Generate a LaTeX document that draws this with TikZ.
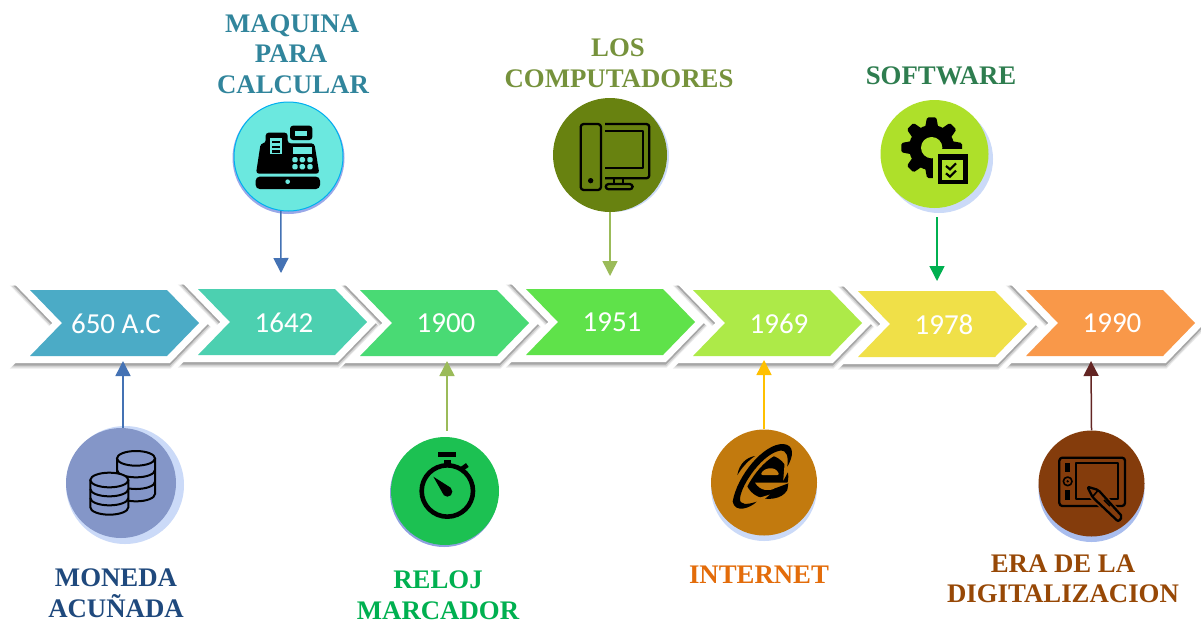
\documentclass[tikz,border=0pt]{standalone}
\usepackage{fontspec}
\setmainfont{Liberation Serif}
\newfontfamily\yearfont{Carlito}
\definecolor{cA}{HTML}{4BABC6}\definecolor{cB}{HTML}{4CD0B0}\definecolor{cC}{HTML}{49DA74}
\definecolor{cD}{HTML}{5FE24A}\definecolor{cE}{HTML}{ADEA48}\definecolor{cF}{HTML}{F0E048}\definecolor{cG}{HTML}{F99849}
\definecolor{halo}{HTML}{CBDAF8}
\definecolor{tMaq}{HTML}{31859C}\definecolor{tCom}{HTML}{76923C}\definecolor{tSof}{HTML}{2E7D4F}
\definecolor{tMon}{HTML}{1F497D}\definecolor{tRel}{HTML}{00B050}\definecolor{tInt}{HTML}{E36C0A}\definecolor{tEra}{HTML}{974806}
\definecolor{dMaq}{HTML}{6BE8DF}\definecolor{dCom}{HTML}{688210}\definecolor{dSof}{HTML}{AEE02A}
\definecolor{dMon}{HTML}{8496C8}\definecolor{dRel}{HTML}{1CC152}\definecolor{dInt}{HTML}{C27A0E}\definecolor{dEra}{HTML}{843C0C}
\definecolor{hMaq}{HTML}{9AA8E8}\definecolor{hRel}{HTML}{8FA0E0}\definecolor{hEra}{HTML}{A9BDEE}
\definecolor{ringMaq}{HTML}{00B0F0}
\definecolor{aBlue}{HTML}{4472B4}\definecolor{aOlive}{HTML}{9BBB59}\definecolor{aGold}{HTML}{FFC000}\definecolor{aDark}{HTML}{632523}
\newcommand{\chevp}[2]{(#1,#2) -- ({#1+137},#2) -- ({#1+169},{#2+33}) -- ({#1+137},{#2+66}) -- (#1,{#2+66}) -- ({#1+32},{#2+33}) -- cycle}
\tikzset{
  x=1pt,y=-1pt,
  title/.style={font=\bfseries\fontsize{26.8}{30}\selectfont,inner sep=0pt,anchor=base},
  year/.style={font=\yearfont\fontsize{29}{30}\selectfont,text=white,inner sep=0pt},
  disc/.style={circle,minimum size=#1,inner sep=0pt,draw=none},
  conn/.style={line width=1.5pt,-{Triangle[length=15pt,width=15pt]}},
  icon/.style={line width=2.3pt,black,line join=round},
}
\usetikzlibrary{arrows.meta}
\begin{document}
\begin{tikzpicture}
\useasboundingbox (0,0) rectangle (1201,622);
\fill[white] (0,0) rectangle (1201,622);
% shadows and white borders
\foreach \xa/\ya in {30/290,198/289,360/290,526/289,693/290,858/291,1026/290}{
  \begin{scope}[yshift=-4pt]\draw[draw=black!8,fill=black!8,line width=17pt,miter limit=10] \chevp{\xa}{\ya};\end{scope}
  \begin{scope}[yshift=-3.5pt]\draw[draw=black!18,fill=black!18,line width=15.5pt,miter limit=10] \chevp{\xa}{\ya};\end{scope}
  \begin{scope}[yshift=-2.5pt]\draw[draw=black!35,fill=black!35,line width=14pt,miter limit=10] \chevp{\xa}{\ya};\end{scope}
}
\foreach \xa/\ya in {30/290,198/289,360/290,526/289,693/290,858/291,1026/290}{
  \draw[draw=white,fill=white,line width=14pt,miter limit=10] \chevp{\xa}{\ya};
}
% chevrons
\foreach \xa/\ya/\cc/\lab/\nm in {30/290/cA/650 A.C/y1,198/289/cB/1642/y2,360/290/cC/1900/y3,526/289/cD/1951/y4,693/290/cE/1969/y5,858/291/cF/1978/y6,1026/290/cG/1990/y7}{
  \fill[\cc] \chevp{\xa}{\ya};
  \node[year] (\nm) at ({\xa+86},{\ya+33.5}) {\lab};
}
% halos and discs
\fill[halo] (125,485) circle[radius=59];
\node[disc=110pt,fill=dMon] (cMon) at (121,483) {};
\fill[hMaq] (288.5,158) circle[radius=56];
\node[disc=109pt,fill=dMaq,draw=ringMaq,line width=1pt] (cMaq) at (288.5,156.5) {};
\fill[halo] (613,156) circle[radius=56];
\node[disc=114pt,fill=dCom] (cCom) at (610,155) {};
\fill[halo] (939,159) circle[radius=54];
\node[disc=108pt,fill=dSof] (cSof) at (934.5,154) {};
\fill[hRel] (444,493) circle[radius=54];
\node[disc=108pt,fill=dRel] (cRel) at (445,491) {};
\fill[halo] (764,488) circle[radius=53];
\node[disc=106pt,fill=dInt] (cInt) at (764,482.5) {};
\fill[hEra] (1091.5,489) circle[radius=53];
\node[disc=106pt,fill=dEra] (cEra) at (1091.5,483.5) {};
% register icon
\begin{scope}[shift={(220,95)},scale=1/3]
  \fill[black,rounded corners=4pt] (107,245) rectangle (300,282);
  \fill[dMaq] (203,260) circle[radius=7];
  \fill[black,rounded corners=3pt] (108,236) -- (122,145) -- (137,145) -- (137,113) -- (203,113) -- (203,145) -- (283,145) -- (298,236) -- cycle;
  \fill[black,rounded corners=3pt] (210,92) rectangle (277,135);
  \fill[dMaq] (225,107) rectangle (260,122);
  \fill[dMaq] (150,130) rectangle (187,178);
  \foreach \yy in {138,152,166}{\fill[black] (156,\yy) rectangle (181,{\yy+7});}
  \fill[dMaq] (218,157) rectangle (275,178);
  \foreach \xx in {217,239,262}{\foreach \yy in {186,207}{\fill[dMaq,rounded corners=1.5pt] (\xx,\yy) rectangle ({\xx+16},{\yy+16});}}
\end{scope}
% computer icon
\begin{scope}[shift={(540,90)},scale=1/3,icon]
  \draw[rounded corners=3pt] (122,102) rectangle (183,300);
  \fill (152,272) circle[radius=8];
  \draw[rounded corners=3pt] (195,102) -- (328,102) -- (328,265) -- (195,265);
  \draw (195,122) -- (308,122) -- (308,235) -- (195,235);
  \draw (223,265) -- (223,282) (250,265) -- (250,282);
  \draw[rounded corners=3pt] (197,282) rectangle (278,298);
\end{scope}
% gear icon
\begin{scope}[shift={(870,95)},scale=1/3]
  \fill[black] (185,158) circle[radius=68];
  \foreach \a in {0,45,...,315}{
    \fill[black,rotate around={\a:(185,158)},rounded corners=1.5pt] (171,67) -- (199,67) -- (207,110) -- (163,110) -- cycle;
  }
  \fill[dSof] (185,158) circle[radius=32];
  \fill[dSof] (190,161) rectangle (300,275);
  \fill[black] (203,177) rectangle (293,268);
  \fill[dSof] (217,195) rectangle (280,255);
  \draw[black,line width=2.2pt] (228,213) -- (240,223) -- (258,205);
  \draw[black,line width=2.2pt] (228,235) -- (240,245) -- (258,227);
\end{scope}
% coins icon
\begin{scope}[shift={(55,420)},scale=1/3,line width=2pt,black]
  \draw[fill=dMon] (186,115) -- (186,222) arc[start angle=180,end angle=0,x radius=57,y radius=22] -- (300,115);
  \draw (186,150) arc[start angle=180,end angle=0,x radius=57,y radius=22];
  \draw (186,185) arc[start angle=180,end angle=0,x radius=57,y radius=22];
  \draw[fill=dMon] (243,115) ellipse[x radius=57,y radius=22];
  \draw[fill=dMon] (106,180) -- (106,262) arc[start angle=180,end angle=0,x radius=57,y radius=22] -- (220,180);
  \draw (106,207) arc[start angle=180,end angle=0,x radius=57,y radius=22];
  \draw (106,234) arc[start angle=180,end angle=0,x radius=57,y radius=22];
  \draw[fill=dMon] (163,180) ellipse[x radius=57,y radius=22];
\end{scope}
% stopwatch icon
\begin{scope}[shift={(380,425)},scale=1/3]
  \draw[black,line width=4.6pt] (202,198) circle[radius=77];
  \fill[black] (175,82) rectangle (228,97);
  \fill[black] (193,105) rectangle (212,122);
  \draw[black,line width=4.6pt] (245,132) -- (262,120);
  \fill[black] (160,155) -- (212,188) -- (190,208) -- cycle;
  \fill[black] (202,200) circle[radius=15];
\end{scope}
% browser icon
\begin{scope}[shift={(700,420)},scale=1/3]
  \fill[black] (200,170) circle[radius=65];
  \fill[dInt,rounded corners=2pt] (182,165) .. controls (190,145) and (225,135) .. (238,165) -- cycle;
  \fill[dInt] (165,188) -- (270,188) -- (270,205) -- (225,205) .. controls (205,215) and (180,212) .. (165,188) -- cycle;
  \fill[black] (225,205) -- (265,190) -- (262,210) .. controls (245,240) and (200,240) .. (180,232) -- (190,215) .. controls (200,220) and (215,215) .. (225,205) -- cycle;
  \draw[dInt,line width=6pt] (98,245) .. controls (110,170) and (190,70) .. (250,72) .. controls (285,75) and (280,110) .. (262,140) .. controls (265,110) and (262,90) .. (240,92) .. controls (190,100) and (125,190) .. (120,235) .. controls (118,255) and (140,255) .. (170,245) .. controls (150,265) and (105,280) .. (98,245) -- cycle;
  \fill[black] (98,245) .. controls (110,170) and (190,70) .. (250,72) .. controls (285,75) and (280,110) .. (262,140) .. controls (265,110) and (262,90) .. (240,92) .. controls (190,100) and (125,190) .. (120,235) .. controls (118,255) and (140,255) .. (170,245) .. controls (150,265) and (105,280) .. (98,245) -- cycle;
  \fill[black] (112,165) .. controls (118,130) and (140,112) .. (165,108) .. controls (140,125) and (125,145) .. (112,165) -- cycle;
\end{scope}
% tablet icon
\begin{scope}[shift={(1030,420)},scale=1/3,icon]
  \draw[rounded corners=3pt] (88,113) rectangle (285,258);
  \draw (137,130) rectangle (265,238);
  \fill (105,130) rectangle (120,155);
  \fill (105,210) rectangle (120,240);
  \draw[line width=1.6pt] (113,184) circle[radius=13];
  \fill (113,184) circle[radius=4];
  \draw[dEra,fill=dEra,line width=5pt] (172,200) -- (205,210) -- (277,290) -- (265,305) -- (188,232) -- cycle;
  \draw[fill=dEra,rounded corners=2pt] (172,200) -- (205,210) -- (277,290) -- (265,305) -- (188,232) -- cycle;
  \draw[line width=1.6pt] (205,210) -- (186,232);
  \draw[line width=1.6pt] (222,240) -- (240,258);
\end{scope}
% connector ends
\coordinate (eMaq) at (281,273);
\coordinate (eCom) at (610,276);
\coordinate (eSof) at (937,281);
\coordinate (eMon) at (123,361);
\coordinate (eRel) at (447,361);
\coordinate (eInt) at (764,360);
\coordinate (eEra) at (1091,361);
\draw[conn,color=aBlue] (cMaq.262) -- (eMaq);
\draw[conn,color=aOlive] (cCom.south) -- (eCom);
\draw[conn,color=tRel] ([yshift=-9pt]cSof.south -| eSof) -- (eSof);
\draw[conn,color=aBlue] (cMon.north -| eMon) -- (eMon);
\draw[conn,color=aOlive] ([yshift=6pt]cRel.north -| eRel) -- (eRel);
\draw[conn,color=aGold] (cInt.north) -- (eInt);
\draw[conn,color=aDark] (cEra.north) -- (eEra);
% titles
\node[title,text=tMaq] (t1) at (292,32) {MAQUINA};
\node[title,text=tMaq] (t2) at (291,62) {PARA};
\node[title,text=tMaq] (t3) at (293,93) {CALCULAR};
\node[title,text=tCom] (t4) at (618,56) {LOS};
\node[title,text=tCom] (t5) at (619,87) {COMPUTADORES};
\node[title,text=tSof] (t6) at (941,84) {SOFTWARE};
\node[title,text=tMon] (t7) at (116,586) {MONEDA};
\node[title,text=tMon] (t8) at (116,617) {ACUÑADA};
\node[title,text=tRel] (t9) at (438,588) {RELOJ};
\node[title,text=tRel] (t10) at (438,619) {MARCADOR};
\node[title,text=tInt] (t11) at (759,583) {INTERNET};
\node[title,text=tEra] (t12) at (1063,572) {ERA DE LA};
\node[title,text=tEra] (t13) at (1063,602) {DIGITALIZACION};
\end{tikzpicture}
\end{document}
